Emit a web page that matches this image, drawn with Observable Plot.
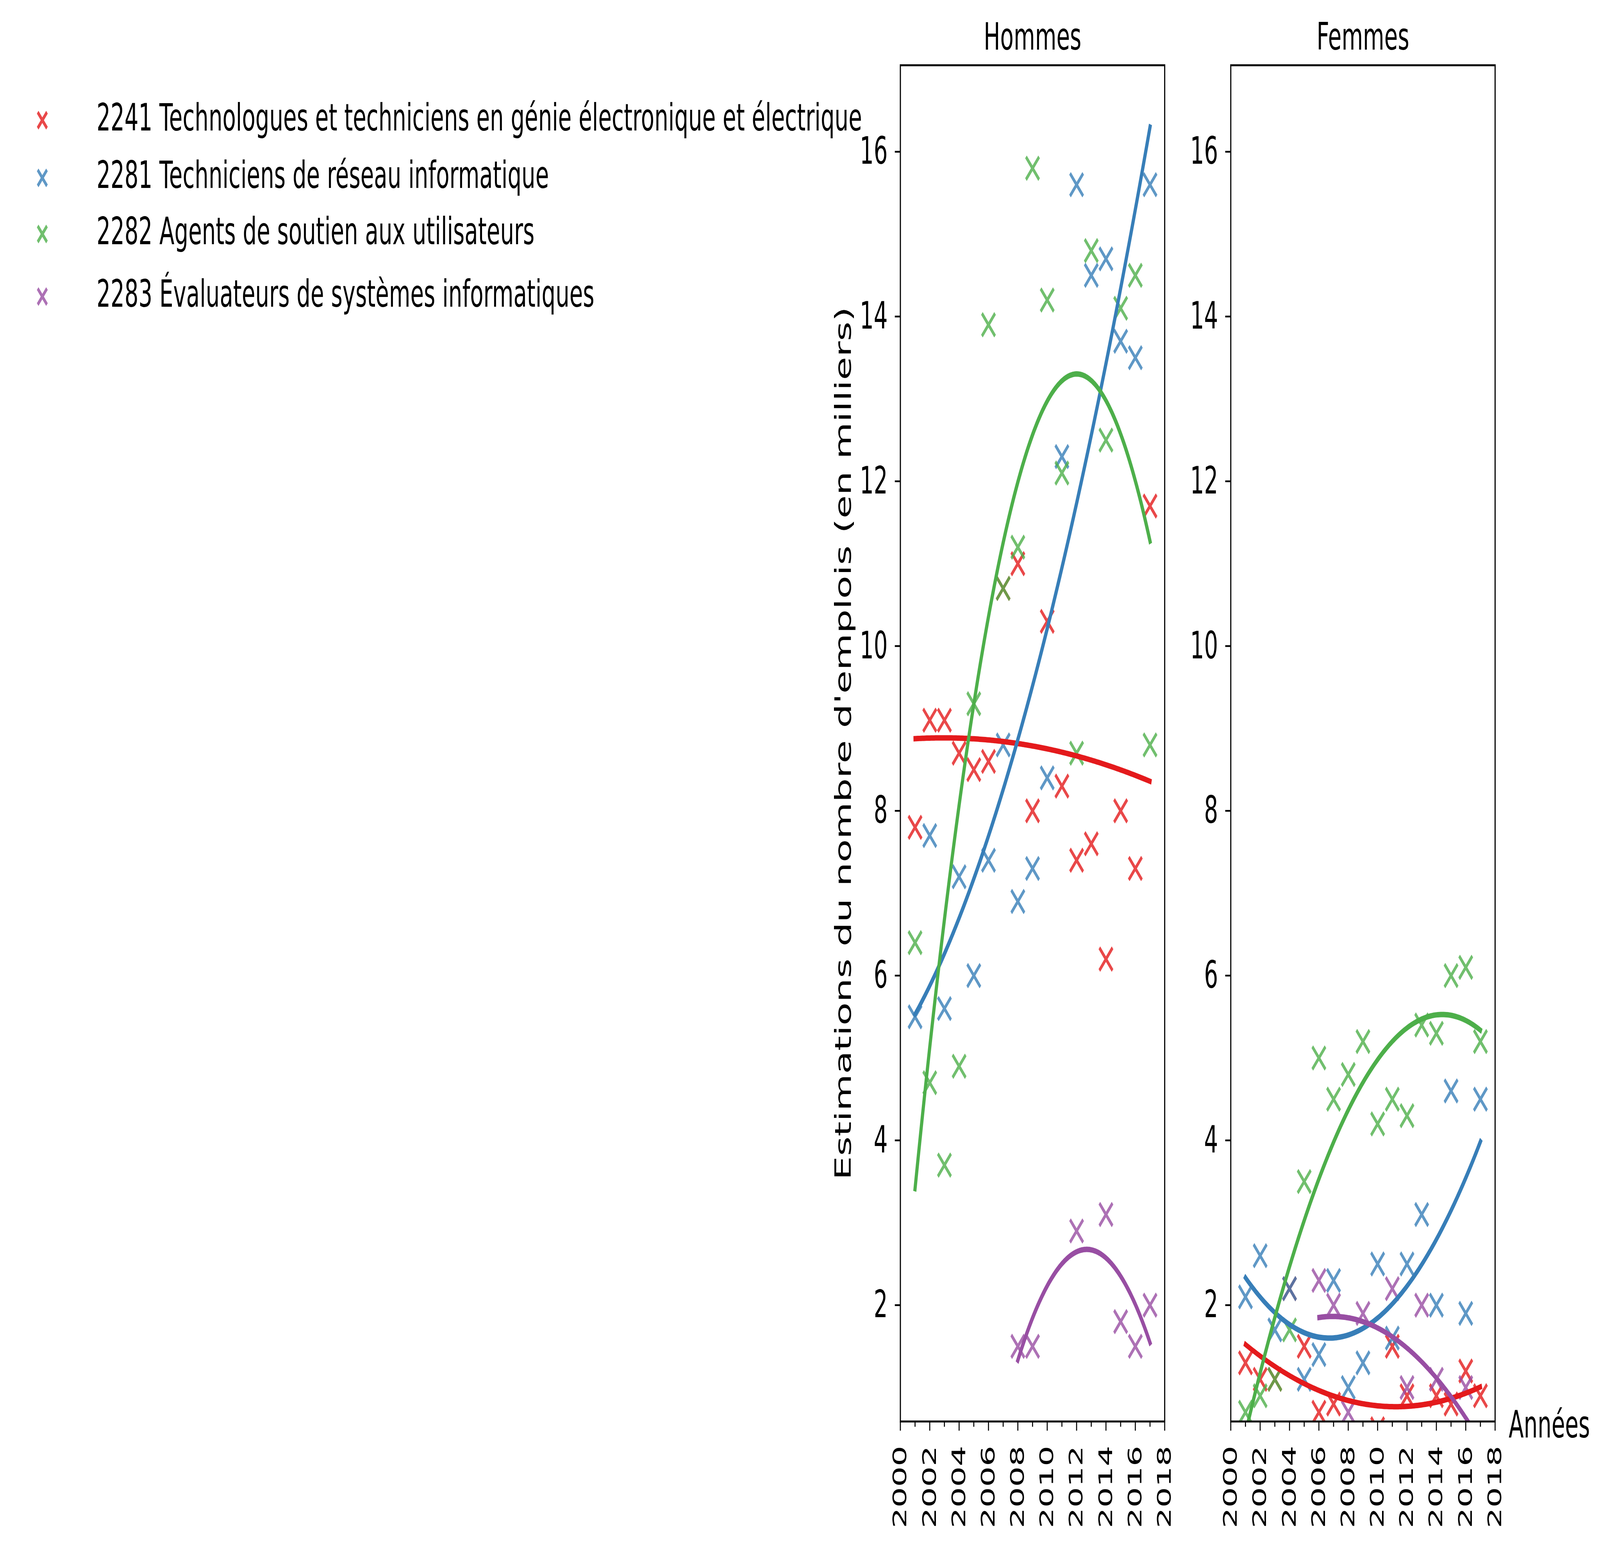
<!DOCTYPE html>
<html>
<head>
<meta charset="utf-8">
<script src="https://cdn.jsdelivr.net/npm/d3@7"></script>
<script src="https://cdn.jsdelivr.net/npm/@observablehq/plot@0.6"></script>
<style>
  html, body { margin: 0; padding: 0; background: #fff; overflow: hidden; }
  #wrap { position: relative; overflow: hidden; background: #fff; }
  #page { position: absolute; left: 0; top: 0; width: 7070px; height: 3949px; transform-origin: 0 0; background: #fff; font-family: "DejaVu Sans", sans-serif; }
  #page > * { position: absolute; }
</style>
</head>
<body>
<div id="wrap"><div id="page"></div></div>
<script>
// ---------------- data ----------------
const years = [2001, 2002, 2003, 2004, 2005, 2006, 2007, 2008, 2009, 2010, 2011, 2012, 2013, 2014, 2015, 2016, 2017];

const categories = [
  "2241 Technologues et techniciens en génie électronique et électrique",
  "2281 Techniciens de réseau informatique",
  "2282 Agents de soutien aux utilisateurs",
  "2283 Évaluateurs de systèmes informatiques"
];
const colors = ["#e41a1c", "#377eb8", "#4daf4a", "#984ea3"];

// Hommes (thousands), one value per year in `years`, null = no estimate
const hommes2241 = [7.8, 9.1, 9.1, 8.7, 8.5, 8.6, 10.7, 11.0, 8.0, 10.3, 8.3, 7.4, 7.6, 6.2, 8.0, 7.3, 11.7];
const hommes2281 = [5.5, 7.7, 5.6, 7.2, 6.0, 7.4, 8.8, 6.9, 7.3, 8.4, 12.3, 15.6, 14.5, 14.7, 13.7, 13.5, 15.6];
const hommes2282 = [6.4, 4.7, 3.7, 4.9, 9.3, 13.9, 10.7, 11.2, 15.8, 14.2, 12.1, 8.7, 14.8, 12.5, 14.1, 14.5, 8.8];
const hommes2283 = [null, null, null, null, null, null, null, 1.5, 1.5, null, null, 2.9, null, 3.1, 1.8, 1.5, 2.0];

// Femmes (thousands); values below the axis floor are estimated
const femmes2241 = [1.3, 1.1, 1.1, 2.2, 1.5, 0.7, 0.8, 0.45, 0.35, 0.5, 1.5, 0.9, 0.4, 0.9, 0.8, 1.2, 0.9];
const femmes2281 = [2.1, 2.6, 1.7, 2.2, 1.1, 1.4, 2.3, 1.0, 1.3, 2.5, 1.6, 2.5, 3.1, 2.0, 4.6, 1.9, 4.5];
const femmes2282 = [0.7, 0.9, 1.1, 1.7, 3.5, 5.0, 4.5, 4.8, 5.2, 4.2, 4.5, 4.3, 5.4, 5.3, 6.0, 6.1, 5.2];
const femmes2283 = [null, null, null, null, null, 2.3, 2.0, 0.7, 1.9, null, 2.2, 1.0, 2.0, 1.1, 0.4, 1.0, 0.15];

const panelTitles = ["Hommes", "Femmes"];
const yTicks = [2, 4, 6, 8, 10, 12, 14, 16];
const xTicks = [2000, 2002, 2004, 2006, 2008, 2010, 2012, 2014, 2016, 2018];
const xMinorTicks = [2001, 2003, 2005, 2007, 2009, 2011, 2013, 2015, 2017];
const yDomain = [0.588, 17.05];
const xDomain = [2000, 2018];
const yLabel = "Estimations du nombre d'emplois (en milliers)";
const xLabel = "Années";

// ---------------- helpers ----------------
function toRows(seriesList) {
  const rows = [];
  seriesList.forEach((arr, i) => arr.forEach((v, j) => {
    if (v != null) rows.push({year: years[j], value: v, series: categories[i]});
  }));
  return rows;
}

// least-squares polynomial of degree 2 (the trend drawn for each series)
function quadraticFit(xs, ys) {
  const mx = d3.mean(xs);
  const s = [0, 0, 0, 0, 0], t = [0, 0, 0];
  xs.forEach((x, i) => {
    const u = x - mx;
    const p = [1, u, u * u, u * u * u, u * u * u * u];
    for (let k = 0; k < 5; k++) s[k] += p[k];
    for (let k = 0; k < 3; k++) t[k] += p[k] * ys[i];
  });
  const M = [[s[0], s[1], s[2]], [s[1], s[2], s[3]], [s[2], s[3], s[4]]];
  const det3 = m => m[0][0] * (m[1][1] * m[2][2] - m[1][2] * m[2][1])
                  - m[0][1] * (m[1][0] * m[2][2] - m[1][2] * m[2][0])
                  + m[0][2] * (m[1][0] * m[2][1] - m[1][1] * m[2][0]);
  const D = det3(M);
  const c = [0, 1, 2].map(col => det3(M.map((row, r) => row.map((v, k) => (k === col ? t[r] : v)))) / D);
  return x => { const u = x - mx; return c[0] + c[1] * u + c[2] * u * u; };
}

function trendRows(rows) {
  const out = [];
  for (const name of categories) {
    const pts = rows.filter(d => d.series === name);
    if (pts.length < 3) continue;
    const f = quadraticFit(pts.map(d => d.year), pts.map(d => d.value));
    const [lo, hi] = d3.extent(pts, d => d.year);
    const n = 160;
    for (let i = 0; i <= n; i++) {
      const x = lo + (hi - lo) * i / n;
      out.push({year: x, value: f(x), series: name});
    }
  }
  return out;
}

const FONT = "DejaVu Sans";
const PAGE_W = 7070, PAGE_H = 3949;
const FRAME_TOP = 166.5, FRAME_BOTTOM = 3637.5, FRAME_W = 1168;

function panel(title, seriesList, {marginLeft, marginRight, withYLabel, withXLabel}) {
  const rows = toRows(seriesList);
  const trends = trendRows(rows);
  const marks = [
    Plot.dot(rows, {x: "year", y: "value", stroke: "series", fill: "none", symbol: "times",
                    r: 26.5, strokeWidth: 10, strokeOpacity: 0.8, clip: true}),
    Plot.line(trends, {x: "year", y: "value", z: "series", stroke: "series", strokeWidth: 14,
                       strokeLinecap: "square", clip: true}),
    Plot.frame({stroke: "black", strokeWidth: 5}),
    Plot.axisY({ticks: yTicks, tickSize: 24, tickPadding: 32, fontSize: 97, strokeWidth: 4.5,
                label: null, tickFormat: d => String(d)}),
    Plot.axisX({ticks: xTicks, tickSize: 24, tickPadding: 38, tickRotate: -90, fontSize: 83,
                strokeWidth: 4.5, label: null, tickFormat: d => String(d)}),
    Plot.axisX({ticks: xMinorTicks, tickSize: 14, strokeWidth: 4.5, label: null, tickFormat: () => ""}),
    Plot.text([title], {text: d => d, frameAnchor: "top", dy: -40.5, lineAnchor: "bottom",
                        textAnchor: "middle", fontSize: 97, fill: "black"})
  ];
  if (withYLabel) {
    marks.push(Plot.text([yLabel], {text: d => d, frameAnchor: "left", dx: -218.7, rotate: -90,
                                    textAnchor: "middle", lineAnchor: "bottom", fontSize: 97, fill: "black"}));
  }
  if (withXLabel) {
    marks.push(Plot.text([xLabel], {text: d => d, frameAnchor: "bottom-right", dx: 60, dy: 40.5,
                                    textAnchor: "start", lineAnchor: "bottom", fontSize: 97, fill: "black"}));
  }
  return Plot.plot({
    width: marginLeft + FRAME_W + marginRight,
    height: PAGE_H,
    marginLeft, marginRight,
    marginTop: FRAME_TOP,
    marginBottom: PAGE_H - FRAME_BOTTOM,
    style: {fontFamily: FONT, fontSize: "97px", background: "transparent", color: "black", overflow: "visible"},
    x: {domain: xDomain},
    y: {domain: yDomain},
    color: {domain: categories, range: colors},
    marks
  });
}

const wrap = document.getElementById("wrap");
const page = document.getElementById("page");

// The design is laid out at 7070x3949; map it onto the viewport the browser really has
// (the window may be narrower than requested), so the photo matches the 7070x3949 frame.
const vw = window.innerWidth || document.documentElement.clientWidth || PAGE_W;
const vh = window.innerHeight || document.documentElement.clientHeight || PAGE_H;
const sx = vw / PAGE_W, sy = vh / PAGE_H;
page.style.transform = `scale(${sx}, ${sy})`;
wrap.style.width = vw + "px";
wrap.style.height = vh + "px";

// Hommes panel (frame left at x = 3978)
const hommes = panel(panelTitles[0], [hommes2241, hommes2281, hommes2282, hommes2283],
  {marginLeft: 340, marginRight: 20, withYLabel: true, withXLabel: false});
hommes.style.left = (3978 - 340) + "px";
hommes.style.top = "0px";
page.appendChild(hommes);

// Femmes panel (frame left at x = 5438)
const femmes = panel(panelTitles[1], [femmes2241, femmes2281, femmes2282, femmes2283],
  {marginLeft: 200, marginRight: 464, withYLabel: false, withXLabel: true});
femmes.style.left = (5438 - 200) + "px";
femmes.style.top = "0px";
page.appendChild(femmes);

// Legend (top left)
const legendBaselines = [333.6, 481.3, 624.9, 785];
const legend = d3.create("svg")
  .attr("width", 3900).attr("height", 900)
  .style("left", "0px").style("top", "0px")
  .attr("font-family", FONT).attr("font-size", 97);
categories.forEach((name, i) => {
  const g = legend.append("g");
  const cx = 187, cy = legendBaselines[i] - 26, h = 20.5;
  g.append("path")
    .attr("d", `M${cx - h},${cy - h}L${cx + h},${cy + h}M${cx - h},${cy + h}L${cx + h},${cy - h}`)
    .attr("stroke", colors[i]).attr("stroke-width", 10).attr("stroke-opacity", 0.8).attr("fill", "none");
  g.append("text").attr("x", 426.7).attr("y", legendBaselines[i]).attr("fill", "black").text(name);
});
page.appendChild(legend.node());
</script>
</body>
</html>
